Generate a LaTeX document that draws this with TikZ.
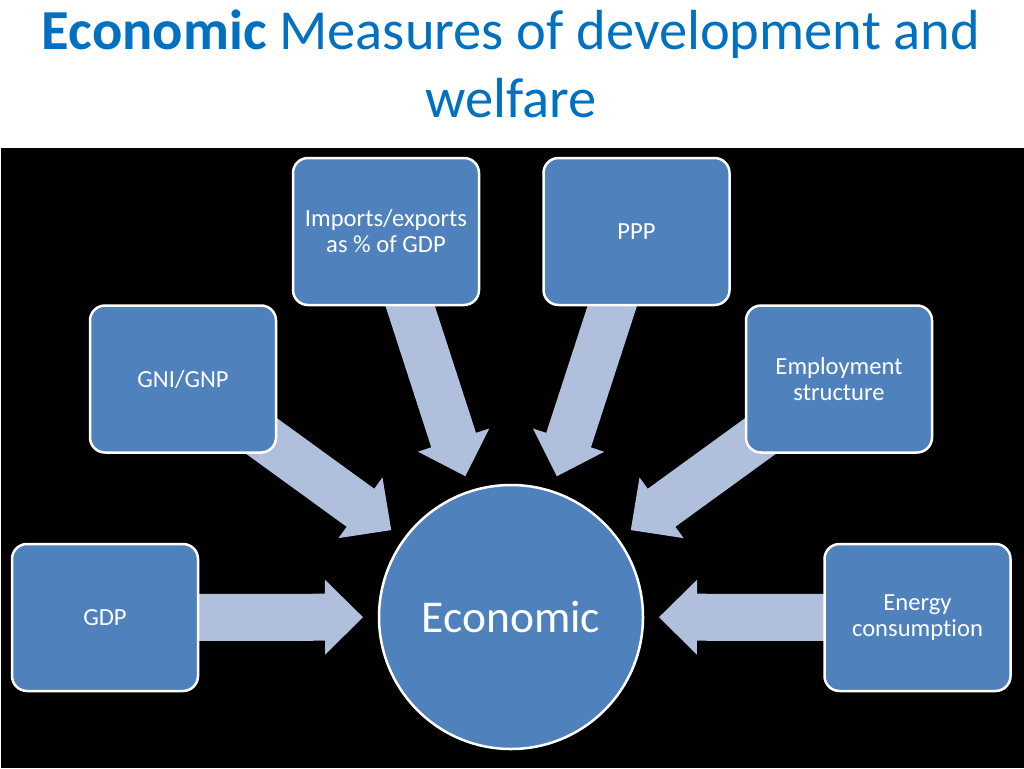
\documentclass[tikz,border=0pt]{standalone}
\usepackage{fontspec}
\setmainfont[Ligatures=NoCommon, RawFeature={-liga;-calt}]{Carlito}
\usetikzlibrary{calc}
\pgfdeclarelayer{back}
\pgfdeclarelayer{mid}
\pgfsetlayers{back,mid,main}
\definecolor{titleblue}{HTML}{0070C0}
\definecolor{boxblue}{HTML}{4F81BD}
\definecolor{arrowblue}{HTML}{AFBFDC}
\tikzset{
  mbox/.style={draw=white, line width=2.5pt, fill=boxblue, rounded corners=15pt,
    minimum width=186pt, minimum height=147pt, inner sep=0pt, text=white,
    align=center, font=\fontsize{24.6pt}{26pt}\selectfont},
  hub/.style={circle, draw=white, line width=2.5pt, fill=boxblue, minimum size=264pt,
    inner sep=0pt, text=white, font=\fontsize{45.5pt}{50pt}\selectfont},
  arrowfill/.style={fill=arrowblue},
  ttl/.style={anchor=base, inner sep=0pt, text=titleblue, font=\fontsize{56.5pt}{68pt}\selectfont}
}
\newcommand\blockarr[2]{%
  \coordinate (T) at ($(#2)!148pt!(#1)$);
  \coordinate (B) at ($(T)!38pt!(#1)$);
  \fill[arrowfill] ($(#1)!23.5pt!90:(B)$) -- ($(B)!23.5pt!-90:(#1)$)
    -- ($(B)!37.5pt!-90:(#1)$) -- (T) -- ($(B)!37.5pt!90:(#1)$)
    -- ($(B)!23.5pt!90:(#1)$) -- ($(#1)!23.5pt!-90:(B)$) -- cycle;}
\begin{document}
\begin{tikzpicture}[x=1pt, y=-1pt]
\useasboundingbox (0,0) rectangle (1024,768);
\begin{pgfonlayer}{back}
\fill[white] (0,0) rectangle (1024,768);
\fill[black] (1,148) rectangle (1024,768);
\end{pgfonlayer}
% title
\node[ttl] (t1) at (511,49) {\textbf{Economic} Measures of development and};
\node[ttl] (t2) at (511,117) {welfare};
% hub and boxes
\node[hub] (eco) at (511,617) {Economic};
\node[mbox] (gdp) at (105,617.5) {GDP};
\node[mbox] (gni) at (183,379) {GNI/GNP};
\node[mbox] (imp) at (386,231.5) {Imports/exports\\as \% of GDP};
\node[mbox] (ppp) at (636.5,231.5) {PPP};
\node[mbox] (emp) at (839,379) {Employment\\structure};
\node[mbox] (ene) at (917.5,617.5) {Energy\\consumpt\kern0pt ion};
% arrows
\begin{pgfonlayer}{mid}
\blockarr{gdp}{eco}
\blockarr{gni}{eco}
\blockarr{imp}{eco}
\blockarr{ppp}{eco}
\blockarr{emp}{eco}
\blockarr{ene}{eco}
\end{pgfonlayer}
\end{tikzpicture}
\end{document}
